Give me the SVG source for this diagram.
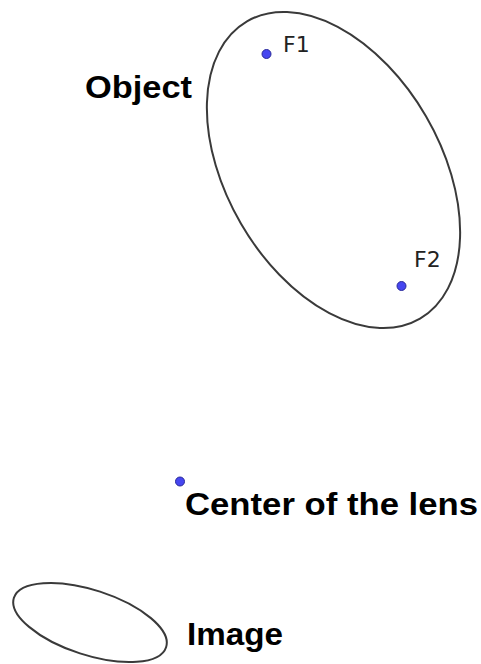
<svg xmlns="http://www.w3.org/2000/svg" width="481" height="664" viewBox="0 0 481 664">
<style>
.ell{fill:none;stroke:#3a3a3a;stroke-width:2}
.pt{fill:#4646f0;stroke:#2a2a9a;stroke-width:1}
.lbl{font-family:"Liberation Sans",Arial,sans-serif;font-weight:bold;font-size:31px;fill:#000}
.fl{font-family:"DejaVu Sans",sans-serif;font-size:22px;fill:#222}
</style>
<rect width="481" height="664" fill="#fff"/>
<g id="object">
<ellipse class="ell" cx="333.5" cy="170" rx="172" ry="107" transform="rotate(59.8 333.5 170)"/>
<text class="lbl" x="85" y="98" textLength="107" lengthAdjust="spacingAndGlyphs">Object</text>
</g>
<g id="F1">
<circle class="pt" cx="266.5" cy="54" r="4.5"/>
<text class="fl" x="283" y="52">F1</text>
</g>
<g id="F2">
<circle class="pt" cx="401.5" cy="286" r="4.5"/>
<text class="fl" x="414" y="267">F2</text>
</g>
<g id="lens">
<circle class="pt" cx="180" cy="481.5" r="4.5"/>
<text class="lbl" x="185" y="515" textLength="293" lengthAdjust="spacingAndGlyphs">Center of the lens</text>
</g>
<g id="image">
<ellipse class="ell" cx="90" cy="622.5" rx="80" ry="32.5" transform="rotate(18 90 622.5)"/>
<text class="lbl" x="187" y="645" textLength="96" lengthAdjust="spacingAndGlyphs">Image</text>
</g>
<g id="connectors"/>
</svg>
